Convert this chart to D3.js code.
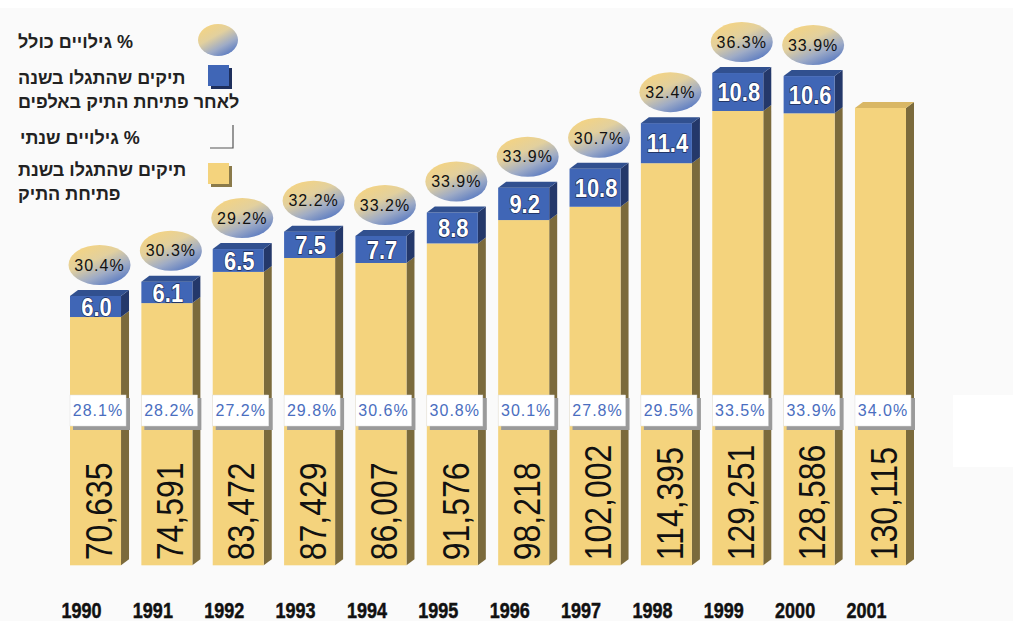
<!DOCTYPE html>
<html lang="he">
<head>
    <meta charset="UTF-8">
    <title>Chart</title>
    <script src="https://cdn.jsdelivr.net/npm/d3@7"></script>
    <style>
        html, body { margin: 0; padding: 0; background: #fafafa; }
        svg { display: block; }
        text { font-family: "Liberation Sans", Arial, "DejaVu Sans", sans-serif; }
    </style>
</head>
<body>
</body>

<script>
    var width = 1013;
    var height = 621;

    // data
    var years = [1990, 1991, 1992, 1993, 1994, 1995, 1996, 1997, 1998, 1999, 2000, 2001];
    var openedCases = [70635, 74591, 83472, 87429, 86007, 91576, 98218, 102002, 114395, 129251, 128586, 130115];
    var laterCases = [6.0, 6.1, 6.5, 7.5, 7.7, 8.8, 9.2, 10.8, 11.4, 10.8, 10.6, null]; // thousands
    var annualPct = [28.1, 28.2, 27.2, 29.8, 30.6, 30.8, 30.1, 27.8, 29.5, 33.5, 33.9, 34.0];
    var totalPct = [30.4, 30.3, 29.2, 32.2, 33.2, 33.9, 33.9, 30.7, 32.4, 36.3, 33.9, null];

    var legendLabels = [
        ["% גילויים כולל"],
        ["תיקים שהתגלו בשנה", "לאחר פתיחת התיק באלפים"],
        ["% גילויים שנתי"],
        ["תיקים שהתגלו בשנת", "פתיחת התיק"]
    ];

    var rows = years.map(function (y, i) {
        return {
            year: y,
            opened: openedCases[i] / 1000,
            later: laterCases[i],
            annual: annualPct[i],
            total: totalPct[i]
        };
    });

    var yellow = {front: "#f4d37d", top: "#d9b765", side: "#7b6a3c"};
    var blue = {front: "#4066b6", top: "#31508f", side: "#24386a"};
    var depthX = 8, depthY = 6;

    var x = d3.scaleBand()
        .domain(years)
        .range([70, 906])
        .paddingInner(0.285)
        .paddingOuter(0);

    // baseline sits a bit under zero in the original
    var y = d3.scaleLinear()
        .domain([-4.75, 150])
        .range([582, 582 - 154.75 * 3.515]);

    var fmt = d3.format(",");

    var svg = d3.select("body")
        .append("svg")
        .attr("width", width)
        .attr("height", height);

    var defs = svg.append("defs");

    function ballGradient(id) {
        var g = defs.append("linearGradient")
            .attr("id", id)
            .attr("x1", "15%").attr("y1", "0%")
            .attr("x2", "85%").attr("y2", "100%");
        g.append("stop").attr("offset", "0%").attr("stop-color", "#f7d47e");
        g.append("stop").attr("offset", "38%").attr("stop-color", "#e2d09e");
        g.append("stop").attr("offset", "68%").attr("stop-color", "#9eabc6");
        g.append("stop").attr("offset", "100%").attr("stop-color", "#4a6fc0");
    }
    ballGradient("ballGrad");

    svg.append("rect").attr("width", width).attr("height", 8).attr("fill", "#ffffff");
    svg.append("rect").attr("x", 953).attr("y", 395).attr("width", 60).attr("height", 72).attr("fill", "#ffffff");

    // one 3d block: side, front, optional top
    function block(g, x0, w, yTop, yBot, c, withTop) {
        g.append("path")
            .attr("d", "M" + (x0 + w) + "," + yBot +
                "L" + (x0 + w + depthX) + "," + (yBot - depthY) +
                "L" + (x0 + w + depthX) + "," + (yTop - depthY) +
                "L" + (x0 + w) + "," + yTop + "Z")
            .attr("fill", c.side);
        g.append("rect")
            .attr("x", x0).attr("y", yTop)
            .attr("width", w).attr("height", yBot - yTop)
            .attr("fill", c.front);
        if (withTop) {
            g.append("path")
                .attr("d", "M" + x0 + "," + yTop +
                    "L" + (x0 + depthX) + "," + (yTop - depthY) +
                    "L" + (x0 + w + depthX) + "," + (yTop - depthY) +
                    "L" + (x0 + w) + "," + yTop + "Z")
                .attr("fill", c.top);
        }
    }

    var bars = svg.append("g").attr("class", "bars")
        .selectAll("g")
        .data(rows)
        .enter()
        .append("g");

    bars.each(function (d) {
        var g = d3.select(this);
        var x0 = x(d.year), w = x.bandwidth();
        var yOpen = y(d.opened);
        block(g, x0, w, yOpen, y(0), yellow, d.later == null);
        if (d.later != null) {
            block(g, x0, w, y(d.opened + d.later), yOpen, blue, true);
        }
    });

    // vertical numbers in the yellow part
    bars.append("text")
        .attr("transform", function (d) {
            return "translate(" + (x(d.year) + x.bandwidth() / 2 + 3) + "," + (y(0) - 5) + ") rotate(-90) scale(1,1.15)";
        })
        .attr("dy", "0.36em")
        .attr("font-size", 32)
        .attr("fill", "#111")
        .text(function (d) { return fmt(Math.round(d.opened * 1000)); });

    // blue labels
    bars.filter(function (d) { return d.later != null; })
        .append("text")
        .attr("transform", function (d) {
            var cy = (y(d.opened + d.later) + y(d.opened)) / 2;
            return "translate(" + (x(d.year) + x.bandwidth() / 2 + 1) + "," + cy + ") scale(1,1.15)";
        })
        .attr("dy", "0.36em")
        .attr("text-anchor", "middle")
        .attr("font-size", 22)
        .attr("font-weight", "bold")
        .attr("fill", "#ffffff")
        .attr("stroke", "#1c2b55")
        .attr("stroke-width", 1.2)
        .attr("paint-order", "stroke")
        .text(function (d) { return d.later.toFixed(1); });

    // ellipses with total %
    var balls = bars.filter(function (d) { return d.total != null; })
        .append("g")
        .attr("transform", function (d) {
            return "translate(" + (x(d.year) + x.bandwidth() / 2 + 4) + "," + (y(d.opened + d.later) - 31) + ")";
        });
    balls.append("ellipse")
        .attr("rx", 31).attr("ry", 20)
        .attr("fill", "url(#ballGrad)");
    balls.append("text")
        .attr("text-anchor", "middle")
        .attr("dy", "0.36em")
        .attr("font-size", 16)
        .attr("letter-spacing", 1)
        .attr("fill", "#111")
        .text(function (d) { return d.total.toFixed(1) + "%"; });

    // white boxes with annual %
    var boxes = bars.append("g")
        .attr("transform", function (d) { return "translate(" + x(d.year) + ",395)"; });
    boxes.append("rect")
        .attr("x", 3).attr("y", 3).attr("width", 57).attr("height", 32)
        .attr("fill", "#9a9a9a");
    boxes.append("rect")
        .attr("width", 56).attr("height", 31)
        .attr("fill", "#ffffff")
        .attr("stroke", "#dddddd")
        .attr("stroke-width", 0.5);
    boxes.append("text")
        .attr("x", 28).attr("y", 15)
        .attr("dy", "0.36em")
        .attr("text-anchor", "middle")
        .attr("font-size", 16)
        .attr("letter-spacing", 1)
        .attr("fill", "#4a6ec0")
        .text(function (d) { return d.annual.toFixed(1) + "%"; });

    // year labels
    svg.append("g").attr("class", "years")
        .selectAll("text")
        .data(rows)
        .enter()
        .append("text")
        .attr("transform", function (d) {
            return "translate(" + (x(d.year) + x.bandwidth() / 2 - 14) + ",618) scale(1,1.2)";
        })
        .attr("text-anchor", "middle")
        .attr("font-size", 18)
        .attr("font-weight", "bold")
        .attr("fill", "#111")
        .attr("stroke", "#111")
        .attr("stroke-width", 0.4)
        .text(function (d) { return d.year; });

    // legend, lines sit left-aligned at x=18 (rtl so anchor "end" = left edge)
    var legend = svg.append("g").attr("class", "legend");
    var legendY = [42, 78, 138, 170];

    legendLabels.forEach(function (lines, i) {
        lines.forEach(function (t, j) {
            legend.append("text")
                .attr("x", i == 2 ? 20 : 18)
                .attr("y", legendY[i] + j * 24)
                .attr("dy", "0.36em")
                .attr("direction", "rtl")
                .attr("text-anchor", "end")
                .attr("font-size", 18)
                .attr("font-weight", "bold")
                .attr("fill", "#222")
                .text(t);
        });
    });

    // legend icons
    ballGradient("legGrad");
    legend.append("ellipse")
        .attr("cx", 218).attr("cy", 40).attr("rx", 20).attr("ry", 16)
        .attr("fill", "url(#legGrad)");

    legend.append("rect").attr("x", 211).attr("y", 68).attr("width", 21).attr("height", 21).attr("fill", "#1e2f5c");
    legend.append("rect").attr("x", 208).attr("y", 65).attr("width", 21).attr("height", 21).attr("fill", blue.front);

    legend.append("path")
        .attr("d", "M233,125L233,148L210,148")
        .attr("fill", "none")
        .attr("stroke", "#555")
        .attr("stroke-width", 1.2);

    legend.append("rect").attr("x", 211).attr("y", 166).attr("width", 21).attr("height", 21).attr("fill", "#8a7a4a");
    legend.append("rect").attr("x", 208).attr("y", 163).attr("width", 21).attr("height", 21).attr("fill", yellow.front);
</script>
</html>
